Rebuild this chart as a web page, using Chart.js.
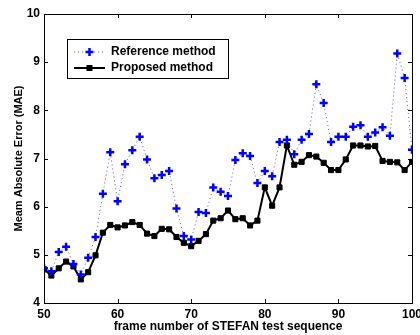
<!DOCTYPE html>
<html>
<head>
<meta charset="utf-8">
<script src="https://cdn.jsdelivr.net/npm/chart.js@4/dist/chart.umd.min.js"></script>
<style>
  html, body { margin: 0; padding: 0; background: #fff; }
  #wrap { width: 420px; height: 335px; }
</style>
</head>
<body>
<div id="wrap"><canvas id="mae"></canvas></div>
<script>
const frames = [50,51,52,53,54,55,56,57,58,59,60,61,62,63,64,65,66,67,68,69,70,
  71,72,73,74,75,76,77,78,79,80,81,82,83,84,85,86,87,88,89,90,
  91,92,93,94,95,96,97,98,99,100];
const refMethod = [4.72,4.66,5.06,5.17,4.81,4.59,4.94,5.37,6.27,7.13,6.11,
  6.88,7.17,7.45,6.98,6.59,6.66,6.74,5.96,5.39,5.32,
  5.89,5.87,6.40,6.31,6.22,6.97,7.11,7.05,6.49,6.74,
  6.63,7.34,7.39,7.09,7.39,7.51,8.54,8.15,7.34,7.45,
  7.45,7.66,7.69,7.45,7.54,7.65,7.47,9.18,8.67,7.18];
const propMethod = [4.70,4.57,4.72,4.86,4.76,4.49,4.64,4.99,5.46,5.62,5.57,
  5.61,5.68,5.62,5.44,5.39,5.54,5.53,5.37,5.25,5.18,
  5.29,5.43,5.71,5.76,5.92,5.74,5.76,5.61,5.71,6.40,
  6.02,6.40,7.27,6.87,6.93,7.07,7.04,6.91,6.76,6.76,
  6.98,7.27,7.27,7.25,7.26,6.95,6.93,6.92,6.76,6.93];
const xTicks = [50,60,70,80,90,100];
const yTicks = [4,5,6,7,8,9,10];
const seriesNames = ["Reference method", "Proposed method"];

const FONT = "'Liberation Sans', Arial, sans-serif";
const BLUE = "#0000ff";
const DOTS = "rgba(60,60,255,0.75)";

function pts(ys) { return frames.map((f, i) => ({x: f, y: ys[i]})); }

// box round the plot, inward ticks on all sides, and the legend
const frameAndLegend = {
  id: "frameAndLegend",
  afterDraw(chart) {
    const ctx = chart.ctx, a = chart.chartArea;
    const sx = chart.scales.x, sy = chart.scales.y;
    ctx.save();
    ctx.strokeStyle = "#000";
    ctx.lineWidth = 1;
    ctx.strokeRect(Math.round(a.left) + 0.5, Math.round(a.top) + 0.5,
      Math.round(a.right - a.left), Math.round(a.bottom - a.top));
    const tl = 4;
    ctx.beginPath();
    xTicks.forEach(v => {
      const px = Math.round(sx.getPixelForValue(v)) + 0.5;
      ctx.moveTo(px, a.bottom); ctx.lineTo(px, a.bottom - tl);
      ctx.moveTo(px, a.top); ctx.lineTo(px, a.top + tl);
    });
    yTicks.forEach(v => {
      const py = Math.round(sy.getPixelForValue(v)) + 0.5;
      ctx.moveTo(a.left, py); ctx.lineTo(a.left + tl, py);
      ctx.moveTo(a.right, py); ctx.lineTo(a.right - tl, py);
    });
    ctx.stroke();

    // legend box
    const bx = 67, by = 39, bw = 161, bh = 39;
    ctx.fillStyle = "#fff";
    ctx.fillRect(bx, by, bw, bh);
    ctx.strokeRect(bx + 0.5, by + 0.5, bw, bh);
    const rows = [52, 68];
    // reference row
    ctx.strokeStyle = DOTS;
    ctx.lineWidth = 1;
    ctx.setLineDash([1.2, 2.8]);
    ctx.beginPath(); ctx.moveTo(74, rows[0]); ctx.lineTo(105, rows[0]); ctx.stroke();
    ctx.setLineDash([]);
    ctx.strokeStyle = BLUE;
    ctx.lineWidth = 2.5;
    ctx.beginPath();
    ctx.moveTo(89.5, rows[0] - 4); ctx.lineTo(89.5, rows[0] + 4);
    ctx.moveTo(85.5, rows[0]); ctx.lineTo(93.5, rows[0]);
    ctx.stroke();
    // proposed row
    ctx.strokeStyle = "#000";
    ctx.lineWidth = 2;
    ctx.beginPath(); ctx.moveTo(74, rows[1]); ctx.lineTo(105, rows[1]); ctx.stroke();
    ctx.fillStyle = "#000";
    ctx.fillRect(86.5, rows[1] - 3, 6, 6);
    ctx.font = "bold 12px " + FONT;
    ctx.textBaseline = "middle";
    ctx.fillText(seriesNames[0], 111, rows[0]);
    ctx.fillText(seriesNames[1], 111, rows[1]);
    ctx.restore();
  }
};

new Chart(document.getElementById("mae").getContext("2d"), {
  type: "line",
  data: {
    datasets: [{
      label: seriesNames[0],
      data: pts(refMethod),
      borderColor: DOTS,
      backgroundColor: BLUE,
      borderWidth: 1,
      borderDash: [1.2, 2.8],
      pointStyle: "cross",
      pointRadius: 4,
      pointBorderWidth: 2.5,
      pointBorderColor: BLUE,
      tension: 0,
      fill: false
    }, {
      label: seriesNames[1],
      data: pts(propMethod),
      borderColor: "#000",
      backgroundColor: "#000",
      borderWidth: 2,
      pointStyle: "rect",
      pointRadius: 3.6,
      pointBorderWidth: 1,
      pointBorderColor: "#000",
      tension: 0,
      fill: false
    }]
  },
  options: {
    responsive: true,
    maintainAspectRatio: false,
    animation: false,
    layout: { padding: { left: 0, right: 8, top: 14, bottom: 0 } },
    plugins: { legend: { display: false }, tooltip: { enabled: false } },
    scales: {
      x: {
        type: "linear",
        min: 50, max: 100,
        afterBuildTicks: s => { s.ticks = xTicks.map(v => ({value: v})); },
        afterFit: s => { s.height = 32; s.paddingRight = 0; s.paddingLeft = 0; },
        grid: { display: false, drawTicks: false },
        border: { display: false },
        ticks: { color: "#000", padding: 4, font: { family: FONT, size: 12, weight: "bold" } },
        title: {
          display: true,
          text: "frame number of STEFAN test sequence",
          color: "#000",
          padding: { top: 0, bottom: 1 },
          font: { family: FONT, size: 12, weight: "bold" }
        }
      },
      y: {
        min: 4, max: 10,
        afterBuildTicks: s => { s.ticks = yTicks.map(v => ({value: v})); },
        afterFit: s => { s.width = 44; s.paddingTop = 0; s.paddingBottom = 0; },
        grid: { display: false, drawTicks: false },
        border: { display: false },
        ticks: { color: "#000", padding: 4, font: { family: FONT, size: 12, weight: "bold" } },
        title: {
          display: true,
          text: "Meam Absolute Error (MAE)",
          color: "#000",
          padding: { top: 12, bottom: 0 },
          font: { family: FONT, size: 11, weight: "bold" }
        }
      }
    }
  },
  plugins: [frameAndLegend]
});
</script>
</body>
</html>
